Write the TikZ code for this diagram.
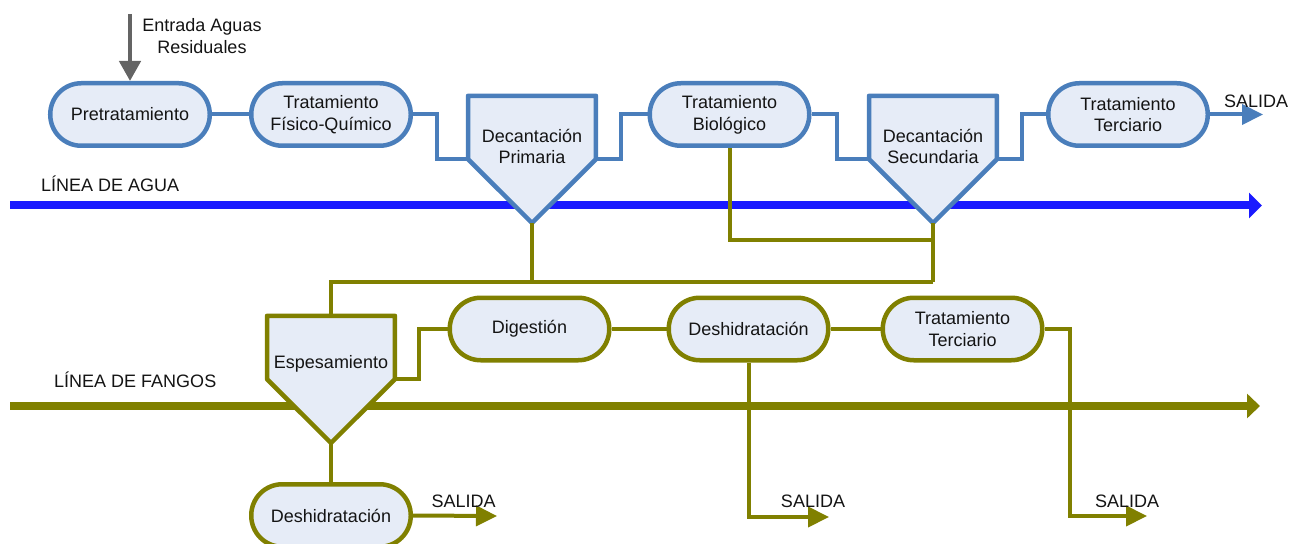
\documentclass[tikz,border=0pt]{standalone}
\usepackage{fontspec}
\setmainfont{Liberation Sans}
\usetikzlibrary{arrows.meta,calc}

\definecolor{wblue}{RGB}{74,126,187}
\definecolor{boxfill}{RGB}{230,236,247}
\definecolor{sludge}{RGB}{128,128,0}
\definecolor{mainblue}{RGB}{26,26,255}
\definecolor{feedgray}{RGB}{100,100,100}
\definecolor{ink}{RGB}{20,20,20}

\newcommand\lblfont{\fontsize{18bp}{21.7bp}\selectfont}

\tikzset{
  lbl/.style={font=\lblfont, text=ink, inner sep=0pt, align=center},
  stage/.style={lbl, draw=wblue, fill=boxfill, line width=4.5bp,
    rounded corners=31bp, minimum width=159.5bp, minimum height=62.5bp},
  sstage/.style={stage, draw=sludge},
  tankframe/.style={inner sep=0pt, minimum width=127.5bp, minimum height=63bp},
  tank/.style={draw=wblue, fill=boxfill, line width=4.5bp, line join=round},
  stank/.style={tank, draw=sludge},
  wpipe/.style={draw=wblue, line width=4bp},
  spipe/.style={draw=sludge, line width=4bp},
  stip/.style={-{Triangle[length=21bp,width=20bp]}},
  mainline/.style={line width=8bp},
}

% settling tank: square top, conical bottom
\newcommand\settler[4]{%
  \node[tankframe] (#1) at (#2,#3) {};
  \coordinate (#1-tip) at (#2,#3+95.5);
  \path[#4] (#1.north west) -- (#1.north east) -- (#1.south east)
     -- (#1-tip) -- (#1.south west) -- cycle;
}

\begin{document}
\begin{tikzpicture}[x=1bp,y=-1bp]
\useasboundingbox (0,0) rectangle (1304,544);

% ---------- main process lines ----------
\coordinate (wa0) at (10,205.5);
\coordinate (wa1) at (1262,205.5);
\draw[mainline, mainblue, -{Triangle[length=13bp,width=25bp]}] (wa0) -- (wa1);
\coordinate (fa0) at (10,406);
\coordinate (fa1) at (1260,406);
\draw[mainline, sludge, -{Triangle[length=13bp,width=24bp]}] (fa0) -- (fa1);

\node[lbl, anchor=west] (lagua) at (41,184) {LÍNEA DE AGUA};
\node[lbl, anchor=west] (lfangos) at (54,380) {LÍNEA DE FANGOS};

% ---------- water line ----------
\node[stage] (pre) at (130,114.5) {Pretratamiento};
\node[stage] (fq) at (331,114.5) {Tratamiento\\Físico-Químico};
\settler{dp}{532}{127.5}{tank}
\node[lbl] (dpt) at (532,146.5) {Decantación\\Primaria};
\node[stage] (bio) at (729.5,114.5) {Tratamiento\\Biológico};
\settler{ds}{933}{127.5}{tank}
\node[lbl] (dst) at (933,146.5) {Decantación\\Secundaria};
\node[stage] (ter) at (1128,114.5) {Tratamiento\\Terciario};

\coordinate (inTop) at (130,14);
\draw[feedgray, line width=4.5bp, -{Triangle[length=20bp,width=21bp]}]
  (inTop) -- (pre.north);
\node[lbl] (intxt) at (202,36) {Entrada Aguas\\Residuales};

\draw[wpipe] (pre) -- (fq);
\draw[wpipe] (fq.east) -- ++(24,0) |- (dp.south west);
\draw[wpipe] (dp.south east) -- ++(25,0) |- (bio.west);
\draw[wpipe] (bio.east) -- ++(25,0) |- (ds.south west);
\draw[wpipe] (ds.south east) -- ++(25,0) |- (ter.west);
\coordinate (wout) at (1263,114.5);
\draw[wpipe, stip] (ter.east) -- (wout);
\node[lbl] (wsal) at (1256,101.7) {SALIDA};

% ---------- sludge line ----------
\settler{esp}{331}{347.5}{stank}
\node[lbl] (espt) at (331,363.5) {Espesamiento};
\node[sstage] (dig) at (529.5,329) {Digestión};
\node[sstage] (desh) at (748.5,329) {Deshidratación};
\node[sstage] (ter2) at (962.5,329) {Tratamiento\\Terciario};
\node[sstage] (desh2) at (331,515.5) {Deshidratación};

\coordinate (j1) at (933,240);
\coordinate (j2) at (933,282);
\draw[spipe] (bio.south) |- (j1);
\draw[spipe] (ds-tip) -- (j2);
\draw[spipe] (dp-tip) -- (dp-tip |- j2);
\draw[spipe] (j2) -| (esp.north);
\draw[spipe] (esp.south east) -- ++(24,0) |- (dig.west);
\draw[spipe] (dig) -- (desh);
\draw[spipe] (desh) -- (ter2);
\draw[spipe] (esp-tip) -- (desh2.north);

\coordinate (so1) at (497,516);
\coordinate (so2) at (829,517);
\coordinate (so3) at (1147,516);
\draw[spipe, stip] (desh2.east) -- (so1);
\draw[spipe, stip] (desh.south) |- (so2);
\draw[spipe, stip] (ter2.east) -- ++(25,0) |- (so3);

\node[lbl] (s1) at (463.7,501.7) {SALIDA};
\node[lbl] (s2) at (813,501.7) {SALIDA};
\node[lbl] (s3) at (1127,501.7) {SALIDA};
\end{tikzpicture}
\end{document}
